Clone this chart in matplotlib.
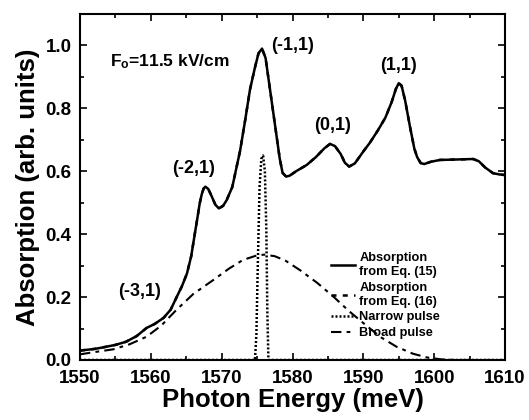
import numpy as np
import matplotlib
matplotlib.use("Agg")
import matplotlib.pyplot as plt
from matplotlib.ticker import MultipleLocator

plt.rcParams['font.family'] = ['Liberation Sans', 'DejaVu Sans']
plt.rcParams['font.weight'] = 'bold'
plt.rcParams['mathtext.fontset'] = 'custom'
plt.rcParams['mathtext.rm'] = 'Liberation Sans:bold'
plt.rcParams['mathtext.it'] = 'Liberation Sans:bold'
plt.rcParams['mathtext.bf'] = 'Liberation Sans:bold'

# [Data]______________________________________________________________________
# absorption spectrum, Eq. (15)
e_abs = [1550, 1552, 1553, 1555, 1556.5, 1558, 1559.4, 1560.5, 1561.8, 1562.8,
         1563.6, 1564.4, 1565.1, 1565.7, 1566.2, 1566.6, 1566.9, 1567.2, 1567.45, 1567.7,
         1568.1, 1568.6, 1569.1, 1569.6, 1570.2, 1570.7, 1571.5, 1572.6, 1573.3,
         1574.0, 1574.7, 1575.2, 1575.7, 1576.2, 1576.7, 1577.2, 1577.7, 1578.2,
         1578.6, 1579.1, 1579.6, 1580.5, 1582.0, 1583.3, 1584.5, 1585.3, 1586.0,
         1586.8, 1587.4, 1588.0, 1588.8, 1590.0, 1590.9, 1592.0, 1593.1, 1594.0,
         1594.6, 1595.0, 1595.4, 1595.9, 1596.6, 1597.2, 1597.6, 1598.1, 1598.6,
         1599.5, 1600.8, 1602.5, 1604.0, 1605.5, 1606.3, 1607.2, 1608.3, 1609.2,
         1610]
a_abs = [0.030, 0.035, 0.039, 0.048, 0.058, 0.076, 0.102, 0.114, 0.134, 0.160,
         0.198, 0.235, 0.275, 0.330, 0.400, 0.455, 0.498, 0.528, 0.545, 0.551,
         0.544, 0.520, 0.494, 0.482, 0.490, 0.508, 0.550, 0.665, 0.760,
         0.860, 0.930, 0.975, 0.990, 0.960, 0.880, 0.800, 0.720, 0.640,
         0.595, 0.583, 0.586, 0.600, 0.620, 0.645, 0.673, 0.687, 0.680,
         0.655, 0.627, 0.615, 0.625, 0.663, 0.690, 0.728, 0.770, 0.820,
         0.862, 0.880, 0.872, 0.825, 0.740, 0.672, 0.645, 0.626, 0.623,
         0.630, 0.636, 0.637, 0.638, 0.639, 0.632, 0.612, 0.594, 0.590,
         0.588]

# narrow pulse
e_narrow = [1550, 1574.7, 1574.9, 1575.1, 1575.35, 1575.6, 1575.85, 1576.1, 1576.3, 1576.45, 1576.6, 1610]
p_narrow = [0.0, 0.0, 0.08, 0.30, 0.55, 0.64, 0.65, 0.60, 0.42, 0.15, 0.0, 0.0]

# broad pulse
e_broad = [1550, 1552, 1554.7, 1557, 1559.4, 1561.5, 1563.6, 1566, 1568.8, 1571,
           1573, 1574.9, 1576, 1577.5, 1579, 1581.1, 1583.5, 1585.8, 1588, 1590.5,
           1592.5, 1594.7, 1597, 1599, 1601, 1603, 1610]
p_broad = [0.018, 0.025, 0.034, 0.050, 0.074, 0.110, 0.159, 0.210, 0.254, 0.290,
           0.318, 0.332, 0.335, 0.330, 0.316, 0.285, 0.245, 0.201, 0.155, 0.108,
           0.072, 0.042, 0.020, 0.008, 0.002, 0.0, 0.0]

peak_labels = ["(-3,1)", "(-2,1)", "(-1,1)", "(0,1)", "(1,1)"]
peak_x = [1558.4, 1566.0, 1580.0, 1585.6, 1594.9]
peak_y = [0.217, 0.61, 1.0, 0.744, 0.935]

# [Plot]______________________________________________________________________
fig = plt.figure(figsize=(5.29, 4.20), dpi=100)
ax = fig.add_axes([80/529, 60/420, 425/529, 346/420])

ax.plot(e_abs, a_abs, "-", color="black", lw=1.8, label="Absorption\nfrom Eq. (15)")
ax.plot(e_abs, a_abs, "--", color="black", lw=1.8, dashes=(2, 2.5), label="Absorption\nfrom Eq. (16)")
ax.plot(e_narrow, p_narrow, ":", color="black", lw=1.8, dashes=(0.8, 0.8), label="Narrow pulse")
ax.plot(e_broad, p_broad, "-", color="black", lw=1.5, dashes=(5, 2.5, 1.8, 2.5), label="Broad pulse")

for lab, px, py in zip(peak_labels, peak_x, peak_y):
  ax.text(px, py, lab, fontsize=13, fontweight="bold", ha="center", va="center")

ax.text(1554.3, 0.95, r"F$_{\mathrm{o}}$=11.5 kV/cm", fontsize=12.5, fontweight="bold", va="center")

ax.set_xlim([1550, 1610])
ax.set_ylim([0, 1.1])
ax.xaxis.set_major_locator(MultipleLocator(10))
ax.xaxis.set_minor_locator(MultipleLocator(5))
ax.yaxis.set_major_locator(MultipleLocator(0.2))
ax.yaxis.set_minor_locator(MultipleLocator(0.1))
ax.yaxis.set_major_formatter(plt.FuncFormatter(lambda v, p: f"{v:.1f}"))
ax.tick_params(which="both", direction="in", top=True, right=True, width=1.2)
ax.tick_params(which="major", length=5, labelsize=13.5)
ax.tick_params(axis="x", which="major", pad=7)
ax.tick_params(axis="y", which="major", pad=6)
ax.tick_params(which="minor", length=3)
for s in ax.spines.values():
  s.set_linewidth(1.5)

ax.set_xlabel("Photon Energy (meV)", fontsize=18.5, fontweight="bold", labelpad=1)
ax.set_ylabel("Absorption (arb. units)", fontsize=18.5, fontweight="bold", labelpad=4)

ax.legend(loc="upper left", bbox_to_anchor=(0.576, 0.33), frameon=False,
          handlelength=1.9, handletextpad=0.3, borderpad=0,
          labelspacing=0.3, prop={"weight": "bold", "size": 9.2})

plt.savefig("out.png", dpi=100)
